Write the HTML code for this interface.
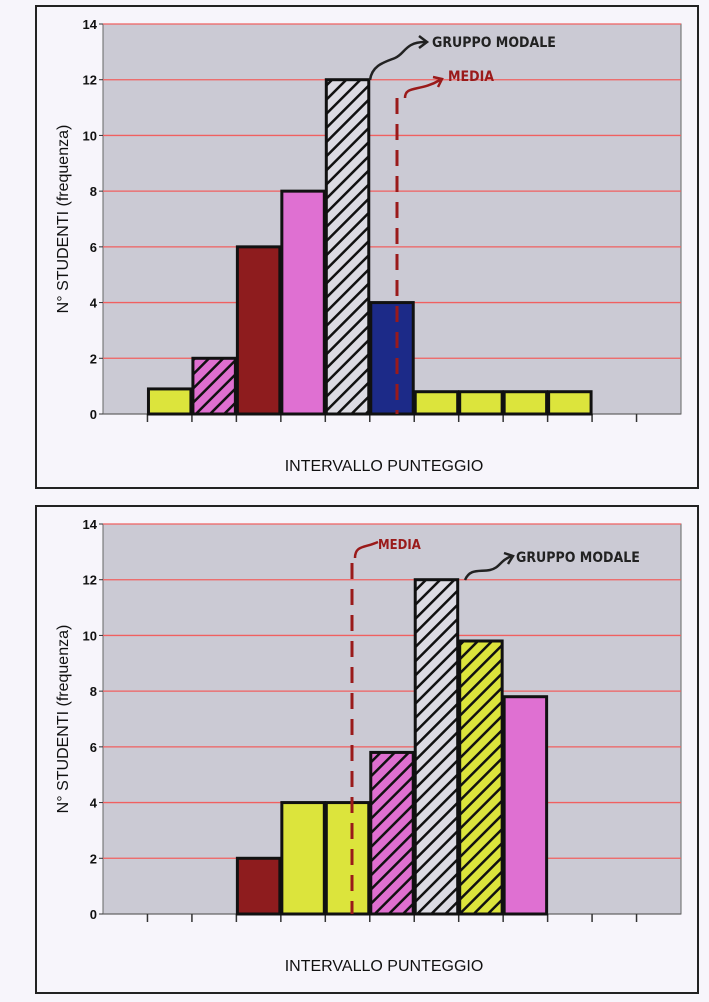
<!DOCTYPE html>
<html><head><meta charset="utf-8"><style>
body{margin:0;background:#f7f5fb;width:709px;height:1002px;overflow:hidden;font-family:"Liberation Sans",sans-serif}
svg{display:block}
</style></head><body>
<svg id="s" width="709" height="1002">
<defs>
<pattern id="hatch" width="10" height="10" patternUnits="userSpaceOnUse" patternTransform="rotate(45)"><rect width="10" height="10" fill="#dcdbe3"/><rect width="2.5" height="10" fill="#111"/></pattern>
<pattern id="hatchPink" width="10" height="10" patternUnits="userSpaceOnUse" patternTransform="rotate(45)"><rect width="10" height="10" fill="#df6fd0"/><rect width="2.5" height="10" fill="#111"/></pattern>
<pattern id="hatchYellow" width="10" height="10" patternUnits="userSpaceOnUse" patternTransform="rotate(45)"><rect width="10" height="10" fill="#dce43c"/><rect width="2.5" height="10" fill="#111"/></pattern>
</defs>
</svg>
<script>
// chart data
const categories = ["1","2","3","4","5","6","7","8","9","10","11","12","13"];
const topValues = [0,0.9,2,6,8,12,4,0.8,0.8,0.8,0.8,0,0];
const topColors = ["none","#dce43c","url(#hatchPink)","#8e1c1e","#df70d2","url(#hatch)","#1c2a88","#dce43c","#dce43c","#dce43c","#dce43c","none","none"];
const bottomValues = [0,0,0,2,4,4,5.8,12,9.8,7.8,0,0,0];
const bottomColors = ["none","none","none","#8e1c1e","#dce43c","#dce43c","url(#hatchPink)","url(#hatch)","url(#hatchYellow)","#df70d2","none","none","none"];
const yTicks = [0,2,4,6,8,10,12,14];

const NS="http://www.w3.org/2000/svg";
const svg=document.getElementById('s');
function mk(tag,attrs,parent){const e=document.createElementNS(NS,tag);for(const k in attrs)e.setAttribute(k,attrs[k]);(parent||svg).appendChild(e);return e;}

function chart(panelY,y0,y14,values,colors,prefix){
  const g=mk('g',{});
  
  
  const panel=mk('rect',{x:36,y:panelY,width:662,height:panelY<300?482:487,fill:'#f7f5fb',stroke:'#222','stroke-width':2},g);
  
  
  const x0=103,x1=681;
  const sw=(x1-x0)/categories.length;
  const yS=v=>y0-(y0-y14)*v/14;
  const xS=i=>x0+i*sw;
  const plot=mk('rect',{x:x0,y:y14,width:x1-x0,height:y0-y14,fill:'#cbcad4',stroke:'#666','stroke-width':1},g);
  
  
  yTicks.forEach(t=>{
    const l=mk('line',{x1:x0,x2:x1,y1:yS(t),y2:yS(t),stroke:t===0?'#666':'#f06060','stroke-width':1.3},g);
    
    
    mk('line',{x1:x0-4,x2:x0,y1:yS(t),y2:yS(t),stroke:'#333'},g);
    const tx=mk('text',{x:x0-6,y:yS(t)+5,'text-anchor':'end','font-size':13,'font-weight':'bold',fill:'#111'},g);
    tx.textContent=t;
    
    
  });
  for(let i=1;i<categories.length;i++){
    mk('line',{x1:xS(i),x2:xS(i),y1:y0,y2:y0+8,stroke:'#333','stroke-width':1.5},g);
  }
  values.forEach((v,i)=>{
    if(v<=0)return;
    const b=mk('rect',{x:xS(i)+1,y:yS(v),width:sw-2,height:y0-yS(v),fill:colors[i],stroke:'#111','stroke-width':3},g);
    
    
  });
  const yt=mk('text',{x:0,y:0,'text-anchor':'middle','font-size':16,fill:'#111',transform:`translate(68,${(y0+y14)/2}) rotate(-90)`},g);
  yt.textContent='N° STUDENTI (frequenza)';
  
  
  const xt=mk('text',{x:384,y:y0+57,'text-anchor':'middle','font-size':16,fill:'#111'},g);
  xt.textContent='INTERVALLO PUNTEGGIO';
  
  
  return {xS,yS,g};
}
const A=chart(6,414,24,topValues,topColors,'top');
const B=chart(506,914,524,bottomValues,bottomColors,'bottom');

function annot(g,x,y,txt,col,name,size){
  const t=mk('text',{x:x,y:y,'font-size':size||14,'font-weight':'bold',fill:col,'font-family':'"DejaVu Sans Condensed","Liberation Sans",sans-serif'},g);
  t.textContent=txt;
  
  
}
// top annotations
mk('path',{d:'M370 80 C372 65 385 62 395 58 C405 54 405 42 425 42',fill:'none',stroke:'#222','stroke-width':2.5},A.g);
mk('path',{d:'M419 36 L427 42 L419 48',fill:'none',stroke:'#222','stroke-width':2.5},A.g);
annot(A.g,432,47,'GRUPPO MODALE','#222','top-modal-label');
mk('line',{x1:397,x2:397,y1:98,y2:414,stroke:'#9a1a1a','stroke-width':3,'stroke-dasharray':'16 10'},A.g);
mk('path',{d:'M405 98 C405 85 420 92 440 80',fill:'none',stroke:'#9a1a1a','stroke-width':2.5},A.g);
mk('path',{d:'M433 77 L442 79 L438 87',fill:'none',stroke:'#9a1a1a','stroke-width':2.5},A.g);
annot(A.g,448,81,'MEDIA','#9a1a1a','top-mean-label');
// bottom annotations
mk('line',{x1:352,x2:352,y1:563,y2:914,stroke:'#9a1a1a','stroke-width':3,'stroke-dasharray':'16 10'},B.g);
mk('path',{d:'M355 558 C355 545 365 548 378 542',fill:'none',stroke:'#9a1a1a','stroke-width':2.5},B.g);
annot(B.g,378,549,'MEDIA','#9a1a1a','bottom-mean-label',13);
mk('path',{d:'M465 580 C470 568 480 572 490 570 C500 568 500 560 512 556',fill:'none',stroke:'#222','stroke-width':2.5},B.g);
mk('path',{d:'M504 553 L513 556 L508 564',fill:'none',stroke:'#222','stroke-width':2.5},B.g);
annot(B.g,516,562,'GRUPPO  MODALE','#222','bottom-modal-label',14);
</script>
</body></html>
